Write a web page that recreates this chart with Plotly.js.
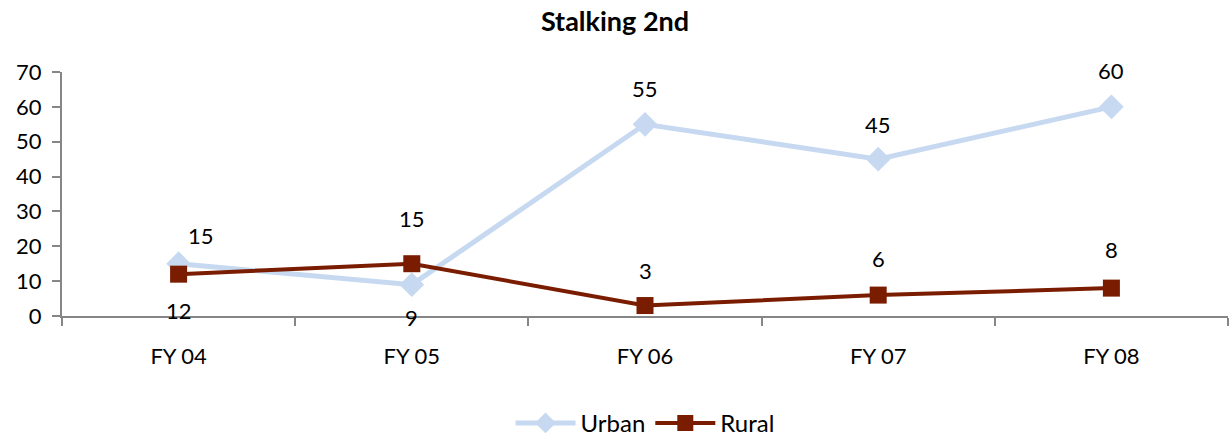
<!DOCTYPE html>
<html><head><meta charset="utf-8">
<script src="https://cdn.plot.ly/plotly-3.0.1.min.js"></script>
<style>html,body{margin:0;padding:0;background:#fff}#chart{width:1230px;height:437px}</style>
</head><body><div id="chart"></div>
<script>
const categories = ["FY 04", "FY 05", "FY 06", "FY 07", "FY 08"];
const urban = [15, 9, 55, 45, 60];
const rural = [12, 15, 3, 6, 8];
const yTicks = [0, 10, 20, 30, 40, 50, 60, 70];

const FONT = "Lato, 'Open Sans', sans-serif";
// label placement (style): horizontal and vertical pixel shift per point
const urbanLabelShift = [[22, 28], [0, -33], [0, 36], [0, 35], [0, 36]];
const ruralLabelShift = [[0, -36], [0, 45], [0, 35], [0, 37], [0, 39]];

const traces = [
  {x: categories, y: urban, name: "Urban", type: "scatter", mode: "lines+markers",
   line: {color: "#C6D9F1", width: 5}, marker: {symbol: "diamond", size: 19, color: "#C6D9F1"}},
  {x: categories, y: rural, name: "Rural", type: "scatter", mode: "lines+markers",
   line: {color: "#7A1C00", width: 4}, marker: {symbol: "square", size: 17, color: "#7A1C00"}}
];

const annotations = [];
function addLabels(vals, shifts) {
  vals.forEach((v, i) => annotations.push({
    x: categories[i], y: v, text: String(v), showarrow: false,
    xshift: shifts[i][0], yshift: shifts[i][1],
    font: {family: FONT, size: 22, color: "#000"}
  }));
}
addLabels(urban, urbanLabelShift);
addLabels(rural, ruralLabelShift);

const layout = {
  width: 1230, height: 437,
  margin: {l: 62, r: 2, t: 72, b: 121, autoexpand: false},
  paper_bgcolor: "#fff", plot_bgcolor: "#fff",
  title: {text: "<b>Stalking 2nd</b>", x: 0.5, xanchor: "center", y: 0.95, yanchor: "middle",
          font: {family: FONT, size: 27, color: "#000"}},
  showlegend: true,
  legend: {orientation: "h", x: 0.5, xanchor: "center", y: -0.44, yanchor: "middle",
           font: {family: FONT, size: 24, color: "#000"}, itemwidth: 60, traceorder: "normal"},
  xaxis: {type: "category", range: [-0.5, 4.5], showgrid: false, zeroline: false,
          showline: true, linecolor: "#868686", linewidth: 2,
          ticks: "outside", tickson: "boundaries", ticklen: 8, tickcolor: "#868686", tickwidth: 2,
          tickfont: {family: FONT, size: 22, color: "#000"}, ticklabelstandoff: 20},
  yaxis: {range: [0, 70], tickvals: yTicks, showgrid: false, zeroline: false,
          showline: true, linecolor: "#868686", linewidth: 2,
          ticks: "outside", ticklen: 8, tickcolor: "#868686", tickwidth: 2,
          tickfont: {family: FONT, size: 22, color: "#000"}, ticklabelstandoff: 6},
  annotations: annotations
};

Plotly.newPlot("chart", traces, layout, {displayModeBar: false, staticPlot: true});
</script></body></html>
